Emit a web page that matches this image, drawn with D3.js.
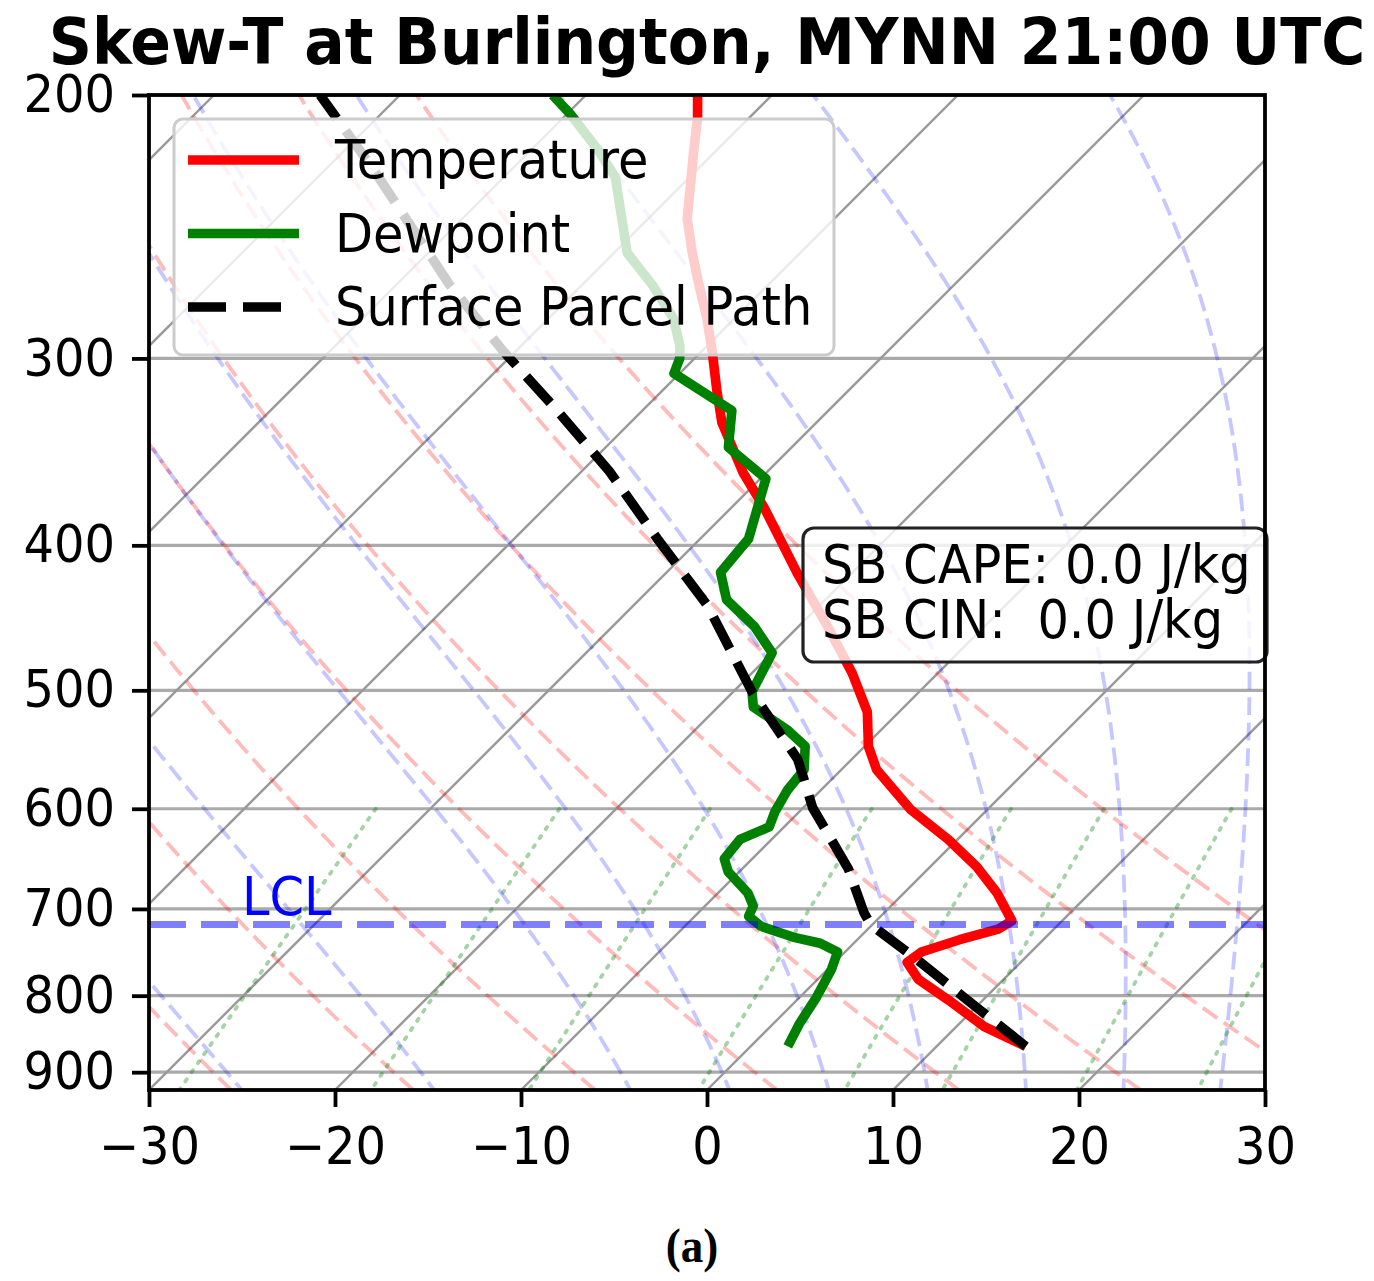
<!DOCTYPE html>
<html>
<head>
<meta charset="utf-8">
<script src="https://cdn.jsdelivr.net/npm/d3@7"></script>
<style>
body { margin: 0; background: #fff; }
svg { display: block; }
text { font-family: "DejaVu Sans", sans-serif; }
</style>
</head>
<body>
<script>
// sounding (hPa, degC)
var tempPres = [200, 207, 218, 242, 255, 268, 282, 297, 315, 331, 358, 377, 417, 451, 487, 517, 545, 565, 601, 629, 656, 683, 713, 722, 734, 748, 760, 780, 805, 839, 865];
var tempVals = [-54.0, -52.8, -51.2, -47.9, -45.8, -43.7, -41.5, -39.4, -37.1, -35.1, -31.2, -28.3, -23.0, -18.7, -14.6, -11.7, -9.8, -8.1, -4.1, -0.5, 2.5, 5.0, 7.3, 7.0, 5.5, 4.1, 3.9, 5.4, 8.1, 11.5, 14.8];

var dewPres = [200, 206, 218, 227, 255, 268, 282, 294, 300, 307, 325, 344, 361, 396, 417, 435, 453, 472, 501, 513, 531, 545, 565, 583, 603, 617, 629, 648, 661, 683, 697, 708, 719, 731, 738, 748, 768, 802, 835, 865];
var dewVals = [-61.8, -59.8, -56.3, -54.0, -49.3, -46.2, -43.3, -41.5, -40.8, -40.3, -35.2, -33.4, -29.7, -27.4, -27.1, -25.3, -22.4, -20.0, -19.0, -18.1, -15.1, -13.2, -12.0, -11.8, -11.3, -10.8, -11.7, -11.5, -10.6, -8.4, -7.4, -7.1, -5.9, -3.6, -1.8, -0.4, 0.2, 0.9, 1.4, 2.0];

var parcelPres = [865, 814, 756, 717, 704, 658, 599, 556, 502, 439, 396, 357, 323, 297, 268, 224, 200];
var parcelVals = [14.8, 10.0, 4.2, -0.1, -1.1, -4.3, -9.5, -12.9, -18.9, -26.0, -32.3, -38.5, -45.0, -50.6, -57.1, -67.5, -74.3];

var lclPres = 717;
var sbCape = "0.0", sbCin = "0.0";

var presTicks = [200, 300, 400, 500, 600, 700, 800, 900];
var tempTicks = [-30, -20, -10, 0, 10, 20, 30];

// background guide lines
var isotherms = [-90, -80, -70, -60, -50, -40, -30, -20, -10, 0, 10, 20, 30];
var dryTheta = [-40, -30, -20, -10, 0, 10, 20, 30, 40, 50];
var moistT0 = [-40, -30, -20, -10, 0, 5, 10, 15, 20, 25, 30, 35, 40, 45, 50];
var mixRatios = [0.0004, 0.001, 0.002, 0.004, 0.007, 0.01, 0.016, 0.024, 0.032];

var margin = { top: 95, left: 149 },
    width = 1116,
    height = 995,
    pBottom = 925, pTop = 200,
    stretch = 1.08;

var svg = d3.select("body").append("svg")
    .attr("width", 1374)
    .attr("height", 1281);

var g = svg.append("g").attr("transform", "translate(" + margin.left + "," + margin.top + ")");

var x = d3.scaleLinear().domain([-30, 30]).range([0, width]),
    y = d3.scaleLog().domain([pBottom, pTop]).range([height, 0]);

// skew-x: isotherms lean one pixel right per pixel up
function sx(t, p) { return x(t) + (height - y(p)); }

var line = d3.line()
    .x(function (d) { return sx(d.t, d.p); })
    .y(function (d) { return y(d.p); });

function zipProfile(pres, vals) {
    return pres.map(function (p, i) { return { p: p, t: vals[i] }; });
}

svg.append("defs").append("clipPath").attr("id", "plot")
    .append("rect").attr("width", width).attr("height", height);

var plot = g.append("g").attr("clip-path", "url(#plot)");

// thermodynamics for the guide lines
var Rd = 287.04749, Cp = 1004.6662, Lv = 2.50084e6, eps = 0.6219569;
function satVap(tc) { return 6.112 * Math.exp(17.67 * tc / (tc + 243.5)); }
function moistSlope(p, tk) {
    var es = satVap(tk - 273.15), rs = eps * es / (p - es);
    return (Rd * tk + Lv * rs) / (Cp + Lv * Lv * rs * eps / (Rd * tk * tk)) / p;
}
var logLevels = d3.range(0, 81).map(function (i) { return pBottom * Math.pow(pTop / pBottom, i / 80); });

// horizontal pressure grid
plot.selectAll(".hgrid").data(presTicks).enter().append("line")
    .attr("x1", 0).attr("x2", width)
    .attr("y1", function (d) { return y(d); }).attr("y2", function (d) { return y(d); })
    .attr("stroke", "#aaaaaa").attr("stroke-width", 3.2);

// isotherms
plot.selectAll(".iso").data(isotherms).enter().append("path")
    .attr("fill", "none").attr("stroke", "#999999").attr("stroke-width", 2.4)
    .attr("d", function (t) { return line([{ p: pBottom, t: t }, { p: pTop, t: t }]); });

// dry adiabats
plot.selectAll(".dry").data(dryTheta).enter().append("path")
    .attr("fill", "none").attr("stroke", "red").attr("stroke-opacity", 0.27)
    .attr("stroke-width", 3.8).attr("stroke-dasharray", "17.8,7.7")
    .attr("d", function (th) {
        return line(logLevels.map(function (p) {
            return { p: p, t: (th + 273.15) * Math.pow(p / 1000, Rd / Cp) - 273.15 };
        }));
    });

// moist adiabats, integrated from 1000 hPa
plot.selectAll(".moist").data(moistT0).enter().append("path")
    .attr("fill", "none").attr("stroke", "blue").attr("stroke-opacity", 0.22)
    .attr("stroke-width", 3.8).attr("stroke-dasharray", "17.8,7.7")
    .attr("d", function (t0) {
        var pts = [], tk = t0 + 273.15, p = 1000, dp = -2;
        while (p >= pTop - 1e-9) {
            if (p <= 935) pts.push({ p: p, t: tk - 273.15 });
            var k1 = moistSlope(p, tk),
                k2 = moistSlope(p + dp / 2, tk + dp / 2 * k1),
                k3 = moistSlope(p + dp / 2, tk + dp / 2 * k2),
                k4 = moistSlope(p + dp, tk + dp * k3);
            tk += dp / 6 * (k1 + 2 * k2 + 2 * k3 + k4);
            p += dp;
        }
        return line(pts);
    });

// mixing ratio lines (600 hPa to bottom)
plot.selectAll(".mix").data(mixRatios).enter().append("path")
    .attr("fill", "none").attr("stroke", "green").attr("stroke-opacity", 0.35)
    .attr("stroke-width", 3.8).attr("stroke-dasharray", "2.5,8.5").attr("stroke-linecap", "round")
    .attr("d", function (w) {
        return line(d3.range(0, 41).map(function (i) {
            var p = 600 + i * (pBottom - 600) / 40,
                a = Math.log(p * w / (eps + w) / 6.112);
            return { p: p, t: 243.5 * a / (17.67 - a) };
        }));
    });

// profiles
plot.append("path")
    .datum(zipProfile(tempPres, tempVals))
    .attr("fill", "none").attr("stroke", "red").attr("stroke-width", 9.6)
    .attr("stroke-linejoin", "round")
    .attr("d", line);

plot.append("path")
    .datum(zipProfile(dewPres, dewVals))
    .attr("fill", "none").attr("stroke", "green").attr("stroke-width", 9.6)
    .attr("stroke-linejoin", "round")
    .attr("d", line);

plot.append("path")
    .datum(zipProfile(parcelPres, parcelVals))
    .attr("fill", "none").attr("stroke", "black").attr("stroke-width", 9.6)
    .attr("stroke-dasharray", "35.5,15.4")
    .attr("d", line);

// LCL
plot.append("line")
    .attr("x1", 0).attr("x2", width)
    .attr("y1", y(lclPres)).attr("y2", y(lclPres))
    .attr("stroke", "blue").attr("stroke-opacity", 0.5).attr("stroke-width", 7.2)
    .attr("stroke-dasharray", "37,15");

function addText(parent, tx, ty, str) {
    return parent.append("text")
        .attr("transform", "translate(" + tx + "," + ty + ") scale(1," + stretch + ")")
        .attr("xml:space", "preserve")
        .style("white-space", "pre")
        .text(str);
}

addText(g, x(-25), y(lclPres) - 10, "LCL")
    .attr("fill", "blue").attr("font-size", 49.5);

// legend
var legendItems = [
    { label: "Temperature", color: "red", dash: null },
    { label: "Dewpoint", color: "green", dash: null },
    { label: "Surface Parcel Path", color: "black", dash: "38,17,38,100" }
];
var legend = g.append("g").attr("transform", "translate(25,24)");
legend.append("rect")
    .attr("width", 660).attr("height", 236).attr("rx", 9)
    .attr("fill", "white").attr("fill-opacity", 0.8)
    .attr("stroke", "#cccccc").attr("stroke-width", 3);
legendItems.forEach(function (d, i) {
    var ly = 41 + i * 73.5;
    legend.append("line")
        .attr("x1", 14).attr("x2", 125).attr("y1", ly).attr("y2", ly)
        .attr("stroke", d.color).attr("stroke-width", 9.6)
        .attr("stroke-dasharray", d.dash);
    addText(legend, 161, ly + 18, d.label).attr("font-size", 49.5);
});

// CAPE / CIN box
var box = g.append("g").attr("transform", "translate(" + (width - 462) + ",433)");
box.append("rect")
    .attr("width", 464).attr("height", 134).attr("rx", 11)
    .attr("fill", "white").attr("fill-opacity", 0.8)
    .attr("stroke", "#222").attr("stroke-width", 3.2);
addText(box, 19, 55, "SB CAPE: " + sbCape + " J/kg").attr("font-size", 49.5);
addText(box, 19, 110, "SB CIN:  " + sbCin + " J/kg").attr("font-size", 49.5);

// axes
var yAxis = g.append("g")
    .call(d3.axisLeft(y).tickValues(presTicks).tickFormat(d3.format("d"))
        .tickSize(17).tickSizeOuter(0).tickPadding(17));
var xAxis = g.append("g")
    .attr("transform", "translate(0," + height + ")")
    .call(d3.axisBottom(x).tickValues(tempTicks).tickFormat(d3.format("d"))
        .tickSize(17).tickSizeOuter(0).tickPadding(17));

[yAxis, xAxis].forEach(function (a) {
    a.select(".domain").remove();
    a.selectAll(".tick line").attr("stroke", "black").attr("stroke-width", 3.8);
    a.selectAll(".tick text")
        .attr("font-family", "DejaVu Sans").attr("font-size", 48).attr("fill", "black")
        .attr("transform", "scale(1," + stretch + ")");
});

g.append("rect")
    .attr("width", width).attr("height", height)
    .attr("fill", "none").attr("stroke", "black").attr("stroke-width", 3.8);

// title and panel label
addText(svg, margin.left + width / 2, 64, "Skew-T at Burlington, MYNN 21:00 UTC")
    .attr("text-anchor", "middle").attr("font-size", 60).attr("font-weight", "bold");

addText(svg, 692, 1262, "(a)")
    .attr("text-anchor", "middle").attr("font-size", 45).attr("font-weight", "bold")
    .style("font-family", "'Liberation Serif', serif");
</script>
</body>
</html>
